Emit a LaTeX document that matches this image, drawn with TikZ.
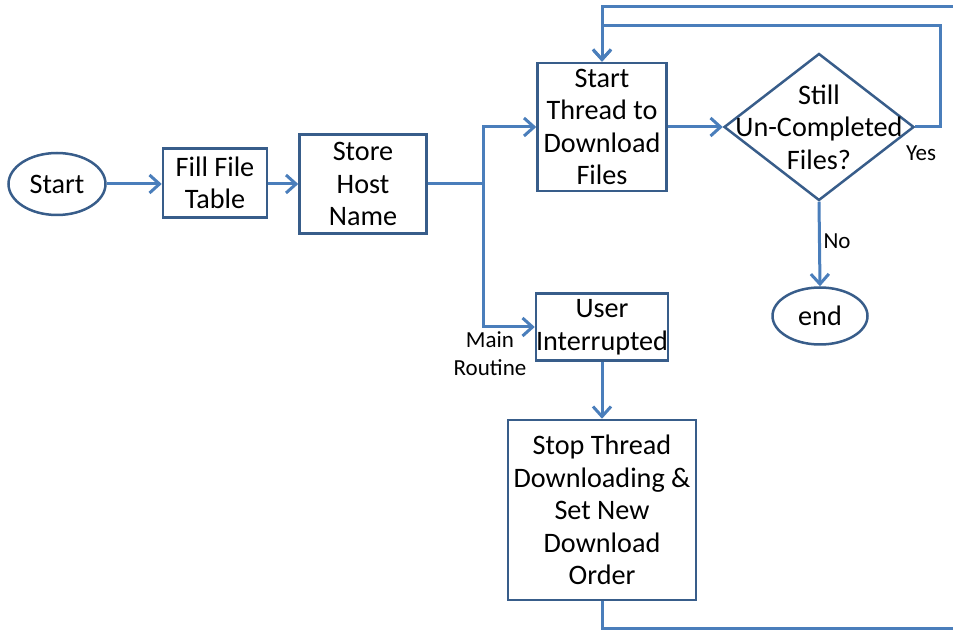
\documentclass[tikz,border=0pt]{standalone}
\usepackage{fontspec}
\setmainfont{Carlito}
\definecolor{line}{HTML}{4A7EBB}
\definecolor{frame}{HTML}{385D8A}
\usepackage{tikz}
\usetikzlibrary{calc}
\usetikzlibrary{arrows.meta,shapes.geometric}
\def\px{0.5pt}

\begin{document}
\begin{tikzpicture}[x=\px, y=-\px,
  box/.style={draw=frame, line width=1.25pt, fill=white, align=center, inner sep=0pt,
    font=\fontsize{14.1}{16.25}\selectfont},
  terminal/.style={box, ellipse},
  decision/.style={draw=frame, line width=1.25pt, diamond, inner sep=0pt,
    minimum width=95pt, minimum height=73.5pt},
  edge/.style={draw=line, line width=1.5pt, -{Straight Barb[length=5pt,width=9pt]}},
  wire/.style={draw=line, line width=1.5pt},
  small/.style={align=center, font=\fontsize{11.5}{14}\selectfont}]

\useasboundingbox (0,0) rectangle (953,630);

% nodes

\node[terminal, minimum width=48.5pt, minimum height=31pt] (start) at (57,184) {Start};
\node[box, minimum width=52pt, minimum height=34.5pt] (fill) at (215,183) {Fill File\\Table};
\node[box, minimum width=63.5pt, minimum height=49.5pt] (host) at (363,184) {Store\\Host\\Name};
\node[box, minimum width=64.5pt, minimum height=64pt] (thread) at (602,127) {Start\\Thread to\\Download\\Files};
\node[decision] (check) at (819,127) {};
\node[box, draw=none, fill=none] (checktext) at (check) {Still\\Un-Completed\\Files?};
\node[terminal, minimum width=47.5pt, minimum height=28.5pt] (end) at (820,316) {end};
\node[box, minimum width=64.5pt, minimum height=33.5pt] (user) at (602,327) {User\\Interrupted};
\node[box, minimum width=94pt, minimum height=90pt] (stop) at (602,510) {Stop Thread\\Downloading \&\\Set New\\Download\\Order};

% edges

\coordinate (J) at (483,184);
\draw[edge] (start) -- (start -| fill.west);
\draw[edge] (fill.east |- start) -- (start -| host.west);
\draw[wire] (host.east |- J) -- (J);
\draw[edge] (J) |- (thread.west);
\draw[edge] (J) |- (user.west);
\draw[edge] (thread.east) -- (check.west);
\draw[edge] (check.south) -- (end.north);
\draw[edge] (user.south) -- (stop.north);

% loops back to the thread
\draw[edge] (check.east) -- (940,127) -- (940,26) -- (thread.north |- 0,26) -- (thread.north);
\draw[edge] (stop.south) -- (602,628) -- (990,628) -- (990,7) -- (thread.north |- 0,7) -- (thread.north);

% labels
\node[small] (main) at (490,354) {Main\\Routine};
\node[small] (yes) at (921,153) {Yes};
\node[small] (no) at (837,241) {No};

\end{tikzpicture}
\end{document}
